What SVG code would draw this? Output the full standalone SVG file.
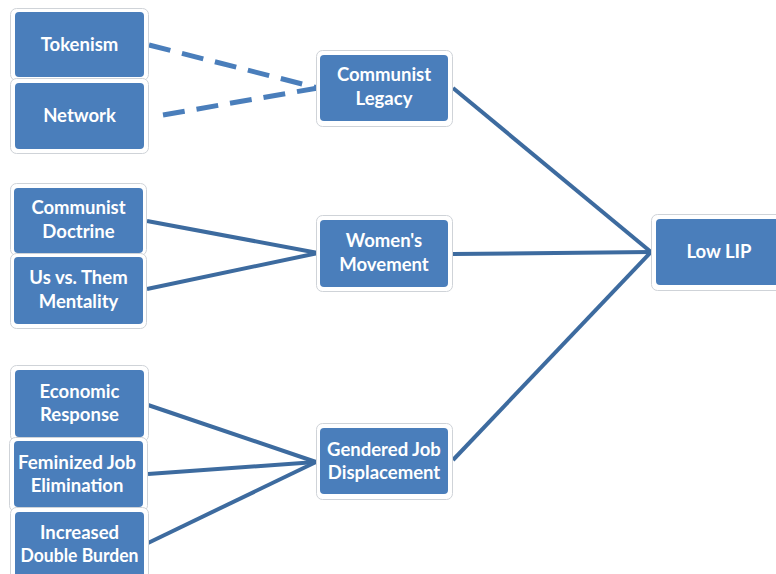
<svg xmlns="http://www.w3.org/2000/svg" width="776" height="574" viewBox="0 0 776 574">
<style>
.frame{fill:#ffffff;stroke:#cfd3d8;stroke-width:1}
.box{fill:#4a7ebb}
.t{font-family:"Lato","Liberation Sans",sans-serif;font-weight:bold;font-size:18.5px;fill:#ffffff;text-anchor:middle}
.c{stroke:#3d6b9f;stroke-width:4;fill:none}
.d{stroke:#4a7ebb;stroke-width:5;fill:none;stroke-dasharray:22 12}
</style>
<rect width="776" height="574" fill="#ffffff"/>
<g id="connectors">
<line class="d" x1="149" y1="45" x2="318" y2="88" stroke-dasharray="3 13 22 12 22 12 22 12 22 12 22 12"/>
<line class="d" x1="163" y1="115" x2="318" y2="88"/>
<line class="c" x1="147" y1="221" x2="318" y2="253"/>
<line class="c" x1="147" y1="289" x2="318" y2="253"/>
<line class="c" x1="148" y1="405" x2="316" y2="462"/>
<line class="c" x1="148" y1="474" x2="316" y2="462"/>
<line class="c" x1="148" y1="543" x2="316" y2="462"/>
<line class="c" x1="453" y1="88" x2="651" y2="252"/>
<line class="c" x1="453" y1="254" x2="651" y2="252"/>
<line class="c" x1="453" y1="460" x2="651" y2="252"/>
</g>
<g id="tokenism">
<rect class="frame" x="10.5" y="8.5" width="138" height="72" rx="6"/>
<rect class="box" x="15" y="12" width="129" height="65" rx="4"/>
<text class="t" x="79.5" y="51">Tokenism</text>
</g>
<g id="network">
<rect class="frame" x="10.5" y="78.5" width="138" height="75" rx="6"/>
<rect class="box" x="15" y="83" width="129" height="66" rx="4"/>
<text class="t" x="79.5" y="122">Network</text>
</g>
<g id="communist-legacy">
<rect class="frame" x="316.5" y="50.5" width="136" height="76" rx="6"/>
<rect class="box" x="320" y="55" width="128" height="66" rx="4"/>
<text class="t" x="384" y="81">Communist</text>
<text class="t" x="384" y="105">Legacy</text>
</g>
<g id="communist-doctrine">
<rect class="frame" x="10.5" y="183.5" width="136" height="72" rx="6"/>
<rect class="box" x="14" y="188" width="129" height="65" rx="4"/>
<text class="t" x="78.5" y="214">Communist</text>
<text class="t" x="78.5" y="238">Doctrine</text>
</g>
<g id="us-vs-them">
<rect class="frame" x="10.5" y="253.5" width="136" height="75" rx="6"/>
<rect class="box" x="14" y="257" width="129" height="67" rx="4"/>
<text class="t" x="78.5" y="284">Us vs. Them</text>
<text class="t" x="78.5" y="308">Mentality</text>
</g>
<g id="womens-movement">
<rect class="frame" x="316.5" y="215.5" width="136" height="76" rx="6"/>
<rect class="box" x="320" y="220" width="128" height="67" rx="4"/>
<text class="t" x="384" y="247">Women's</text>
<text class="t" x="384" y="271">Movement</text>
</g>
<g id="economic-response">
<rect class="frame" x="10.5" y="365.5" width="138" height="76" rx="6"/>
<rect class="box" x="15" y="370" width="129" height="67" rx="4"/>
<text class="t" x="79.5" y="398">Economic</text>
<text class="t" x="79.5" y="421">Response</text>
</g>
<g id="feminized-job-elimination">
<rect class="frame" x="9.5" y="437.5" width="138" height="74" rx="6"/>
<rect class="box" x="14" y="441" width="129" height="66" rx="4"/>
<text class="t" x="77" y="469" textLength="118" lengthAdjust="spacingAndGlyphs">Feminized Job</text>
<text class="t" x="77" y="492">Elimination</text>
</g>
<g id="increased-double-burden">
<rect class="frame" x="10.5" y="507.5" width="138" height="80" rx="6"/>
<rect class="box" x="15" y="512" width="129" height="70" rx="4"/>
<text class="t" x="79.5" y="539">Increased</text>
<text class="t" x="79.5" y="562" textLength="118" lengthAdjust="spacingAndGlyphs">Double Burden</text>
</g>
<g id="gendered-job-displacement">
<rect class="frame" x="316.5" y="423.5" width="136" height="76" rx="6"/>
<rect class="box" x="320" y="428" width="128" height="66" rx="4"/>
<text class="t" x="384" y="456">Gendered Job</text>
<text class="t" x="384" y="479">Displacement</text>
</g>
<g id="low-lip">
<rect class="frame" x="651.5" y="214.5" width="140" height="76" rx="6"/>
<rect class="box" x="656" y="219" width="130" height="66" rx="4"/>
<text class="t" x="719" y="258">Low LIP</text>
</g>
</svg>
